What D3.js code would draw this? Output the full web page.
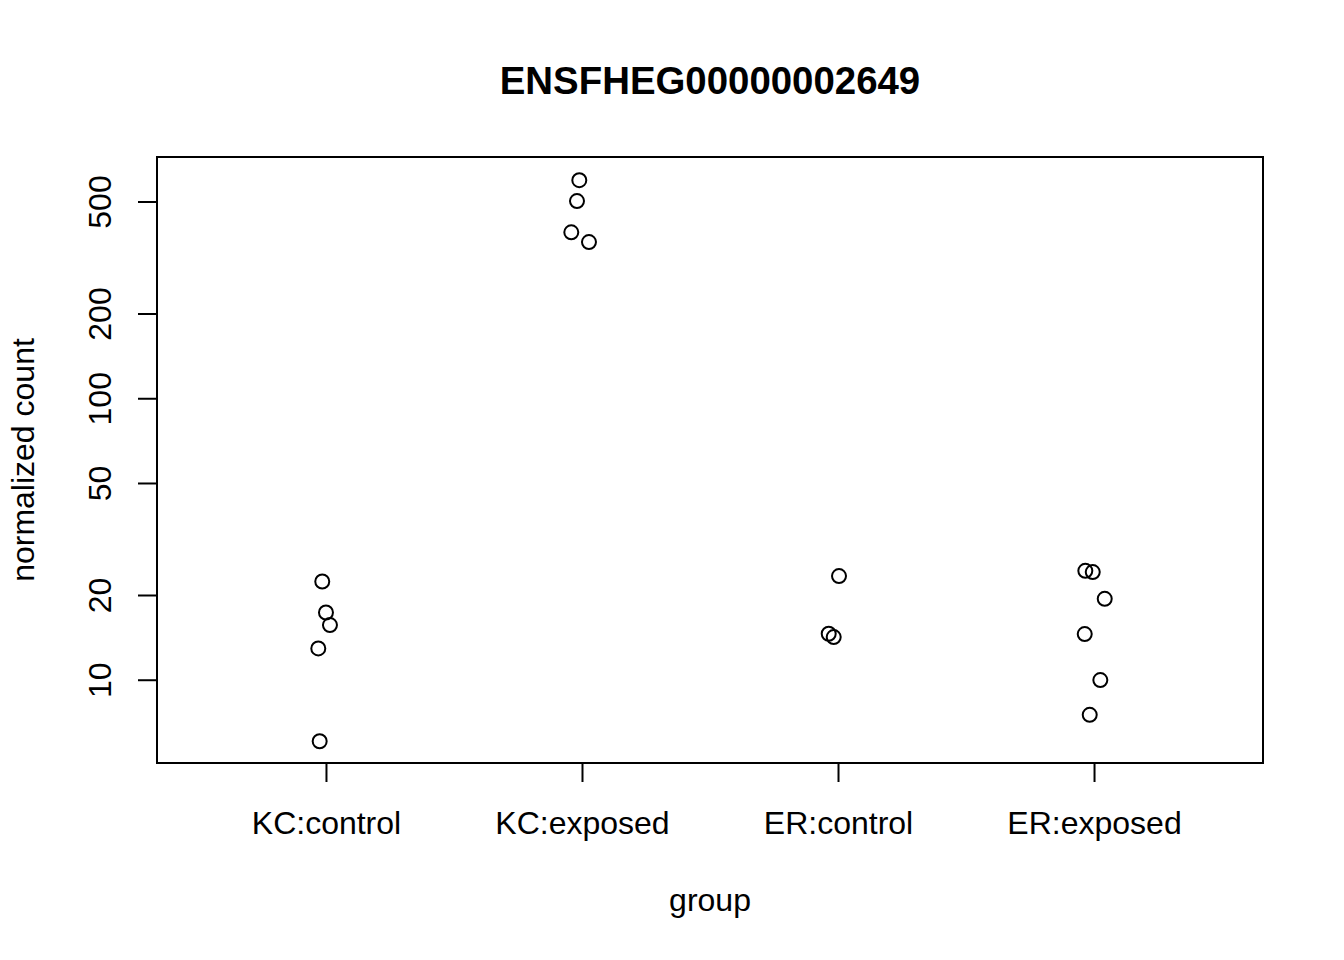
<!DOCTYPE html>
<html>
<head>
<meta charset="utf-8">
<script src="https://cdn.jsdelivr.net/npm/d3@7"></script>
<style>
  html, body { margin: 0; padding: 0; background: #fff; }
  svg { display: block; font-family: "Liberation Sans", Arial, Helvetica, sans-serif; }
</style>
</head>
<body>
<svg id="chart" width="1344" height="960"></svg>
<script>
// ---- data ----
const title = "ENSFHEG00000002649";
const xLabel = "group";
const yLabel = "normalized count";
const categories = ["KC:control", "KC:exposed", "ER:control", "ER:exposed"];
const kcControl = [22.46, 17.43, 15.73, 12.99, 6.08];
const kcExposed = [598.9, 504.6, 390.7, 360.9];
const erControl = [23.48, 14.65, 14.26];
const erExposed = [24.52, 24.26, 19.50, 14.61, 10.03, 7.55];
// horizontal jitter (in group units)
const kcControlJitter = [-0.0145, 0.0, 0.0156, -0.030, -0.0246];
const kcExposedJitter = [-0.0105, -0.0195, -0.0418, 0.0273];
const erControlJitter = [0.0039, -0.0363, -0.0168];
const erExposedJitter = [-0.034, -0.005, 0.0418, -0.0363, 0.0246, -0.0168];
const yTicks = [10, 20, 50, 100, 200, 500];

(function () {
const groups = [
  { name: categories[0], values: kcControl, jitter: kcControlJitter },
  { name: categories[1], values: kcExposed, jitter: kcExposedJitter },
  { name: categories[2], values: erControl, jitter: erControlJitter },
  { name: categories[3], values: erExposed, jitter: erExposedJitter }
];
const points = [];
groups.forEach((g, i) => g.values.forEach((v, j) => points.push({ gx: i + 1 + g.jitter[j], v })));

// ---- layout ----
const pL = 157, pR = 1263, pT = 157, pB = 763;
const lineH = 38.4;   // one text line in px
const fontSize = 32;

const svg = d3.select("#chart");

// x: factor positions 1..n, xlim = [0.5, n + 0.5], extended 4% like R
const xl = [0.5, categories.length + 0.5];
const xpad = (xl[1] - xl[0]) * 0.04;
const x = d3.scaleLinear().domain([xl[0] - xpad, xl[1] + xpad]).range([pL, pR]);

// y: log scale, range of data extended 4% in log space
const lmin = Math.log10(d3.min(points, d => d.v));
const lmax = Math.log10(d3.max(points, d => d.v));
const lpad = (lmax - lmin) * 0.04;
const y = d3.scaleLog().domain([Math.pow(10, lmin - lpad), Math.pow(10, lmax + lpad)]).range([pB, pT]);

// x axis
const xAxis = d3.axisBottom(x)
  .tickValues(d3.range(1, categories.length + 1))
  .tickFormat(d => categories[d - 1])
  .tickSize(19).tickSizeOuter(0).tickPadding(0);
const gx = svg.append("g").attr("transform", `translate(0,${pB})`).call(xAxis);
gx.select(".domain").remove();
gx.selectAll(".tick line").attr("stroke", "#000").attr("stroke-width", 2);
gx.selectAll(".tick text")
  .attr("y", 1.8 * lineH + 2).attr("dy", null)
  .attr("font-size", fontSize).attr("fill", "#000")
  .attr("font-family", "Liberation Sans, Arial, Helvetica, sans-serif");

// y axis
const yAxis = d3.axisLeft(y)
  .tickValues(yTicks)
  .tickFormat(d3.format("d"))
  .tickSize(19).tickSizeOuter(0).tickPadding(0);
const gy = svg.append("g").attr("transform", `translate(${pL},0)`).call(yAxis);
gy.select(".domain").remove();
gy.selectAll(".tick line").attr("stroke", "#000").attr("stroke-width", 2);
gy.selectAll(".tick text")
  .attr("x", null).attr("dy", null)
  .attr("transform", `translate(${-1.2 * lineH},0) rotate(-90)`)
  .attr("text-anchor", "middle")
  .attr("font-size", fontSize).attr("fill", "#000")
  .attr("font-family", "Liberation Sans, Arial, Helvetica, sans-serif");

// box
svg.append("rect")
  .attr("x", pL).attr("y", pT)
  .attr("width", pR - pL).attr("height", pB - pT)
  .attr("fill", "none").attr("stroke", "#000").attr("stroke-width", 2);

// points
svg.append("g").selectAll("circle").data(points).join("circle")
  .attr("cx", d => x(d.gx))
  .attr("cy", d => y(d.v) + 0.7)
  .attr("r", 7)
  .attr("fill", "none")
  .attr("stroke", "#000")
  .attr("stroke-width", 2);

// title
svg.append("text")
  .attr("x", (pL + pR) / 2).attr("y", 94)
  .attr("text-anchor", "middle")
  .attr("font-size", 38.4).attr("font-weight", "bold")
  .text(title);

// axis titles
svg.append("text")
  .attr("x", (pL + pR) / 2).attr("y", pB + 3.8 * lineH + 2)
  .attr("text-anchor", "middle")
  .attr("font-size", fontSize)
  .text(xLabel);

svg.append("text")
  .attr("transform", `translate(${pL - 3.2 * lineH},${(pT + pB) / 2}) rotate(-90)`)
  .attr("text-anchor", "middle")
  .attr("font-size", fontSize)
  .text(yLabel);
})();
</script>
</body>
</html>
